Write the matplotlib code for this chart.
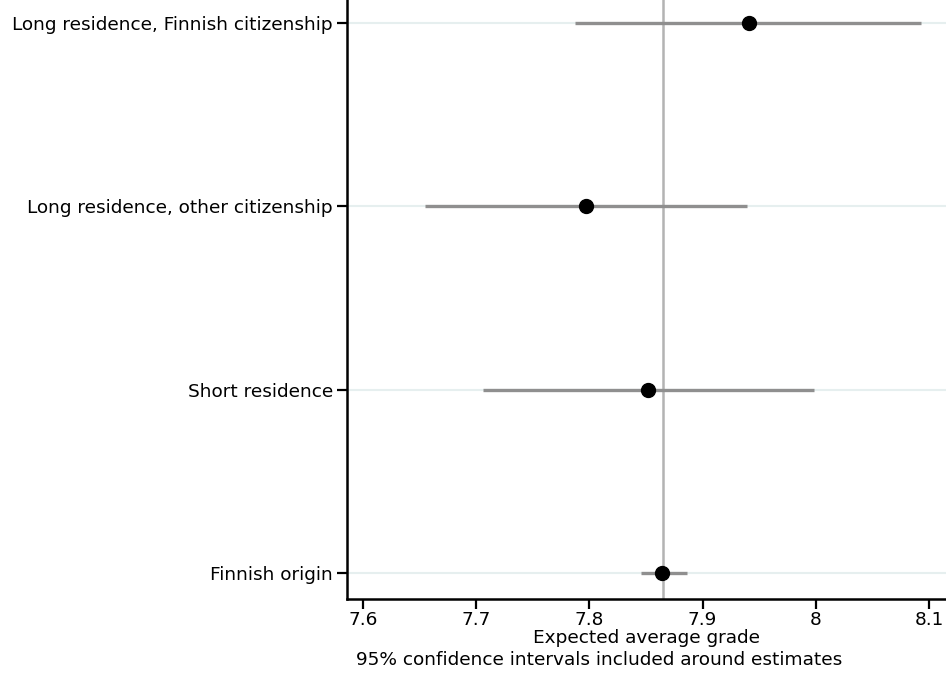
import matplotlib
matplotlib.use("Agg")
import matplotlib.pyplot as plt
import numpy as np

# values
groups = ["Finnish origin", "Short residence",
          "Long residence, other citizenship", "Long residence, Finnish citizenship"]
estimate = [7.864, 7.852, 7.797, 7.941]
ci_low = [7.846, 7.706, 7.655, 7.787]
ci_high = [7.886, 7.998, 7.939, 8.093]
reference_value = 7.865
xticks = [7.6, 7.7, 7.8, 7.9, 8.0, 8.1]
xticklabels = ["7.6", "7.7", "7.8", "7.9", "8", "8.1"]

plt.rcParams["font.family"] = ["DejaVu Sans"]
FS = 13.3

fig = plt.figure(figsize=(9.46, 6.77), dpi=100)
ax = fig.add_axes([0.3668, 0.1152, 0.6332, 0.8848])

y = np.arange(len(groups))
for yi in y:
    ax.axhline(yi, color="#e6efef", lw=1.5, zorder=0)

ax.axvline(reference_value, color="#b3b3b3", lw=1.8, zorder=1)
ax.hlines(y, ci_low, ci_high, color="#8f8f8f", lw=2.4, zorder=2)
ax.plot(estimate, y, "o", color="black", ms=10, zorder=3)

ax.set_xlim(7.5859, 8.115)
ax.set_ylim(-0.14, 3.125)
ax.set_yticks(y)
ax.set_yticklabels(groups, fontsize=FS)
ax.set_xticks(xticks)
ax.set_xticklabels(xticklabels, fontsize=FS)
ax.tick_params(axis="both", direction="out", length=7, width=1.6, color="black")
ax.tick_params(axis="y", pad=3)
ax.tick_params(axis="x", pad=1.5)

for side in ("top", "right"):
    ax.spines[side].set_visible(False)
for side in ("left", "bottom"):
    ax.spines[side].set_linewidth(1.8)

ax.set_xlabel("Expected average grade", fontsize=FS, labelpad=0)
fig.text(0.633, 0.012, "95% confidence intervals included around estimates",
         ha="center", va="bottom", fontsize=FS)

fig.savefig("out.png", dpi=100)
